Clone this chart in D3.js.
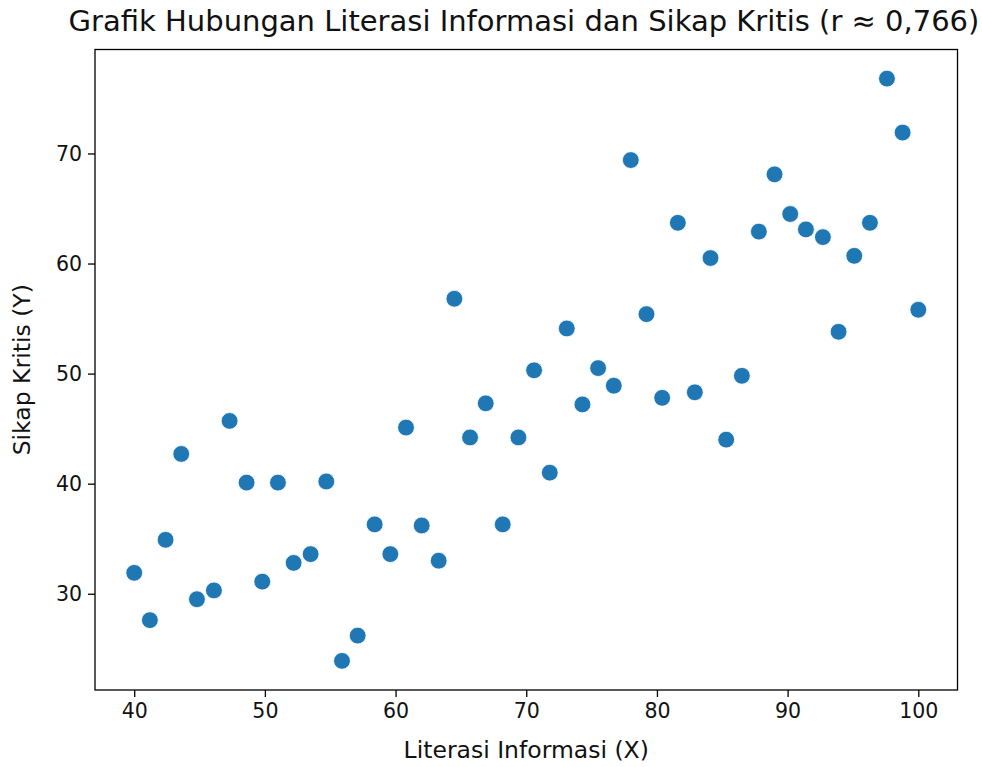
<!DOCTYPE html>
<html>
<head>
<meta charset="utf-8">
<script src="https://cdn.jsdelivr.net/npm/d3@7"></script>
<style>
  body { margin: 0; background: #fff; }
  svg { display: block; font-family: "DejaVu Sans", sans-serif; }
</style>
</head>
<body>
<div id="chart"></div>
<script>
// Literasi Informasi (X)
var literasi = [40.0, 41.2, 42.4, 43.6, 44.8, 46.1, 47.3, 48.6, 49.8, 51.0,
                52.2, 53.5, 54.7, 55.9, 57.1, 58.4, 59.6, 60.8, 62.0, 63.3,
                64.5, 65.7, 66.9, 68.2, 69.4, 70.6, 71.8, 73.1, 74.3, 75.5,
                76.7, 78.0, 79.2, 80.4, 81.6, 82.9, 84.1, 85.3, 86.5, 87.8,
                89.0, 90.2, 91.4, 92.7, 93.9, 95.1, 96.3, 97.6, 98.8, 100.0];
// Sikap Kritis (Y)
var sikap = [31.9, 27.6, 34.9, 42.7, 29.5, 30.3, 45.7, 40.1, 31.1, 40.1,
             32.8, 33.6, 40.2, 23.9, 26.2, 36.3, 33.6, 45.1, 36.2, 33.0,
             56.8, 44.2, 47.3, 36.3, 44.2, 50.3, 41.0, 54.1, 47.2, 50.5,
             48.9, 69.4, 55.4, 47.8, 63.7, 48.3, 60.5, 44.0, 49.8, 62.9,
             68.1, 64.5, 63.1, 62.4, 53.8, 60.7, 63.7, 76.8, 71.9, 55.8];
var xTicks = [40, 50, 60, 70, 80, 90, 100];
var yTicks = [30, 40, 50, 60, 70];

var width = 982, height = 767;
var margin = {top: 49.5, right: 24.5, bottom: 77, left: 95};

var svg = d3.select('#chart').append('svg')
    .attr('width', width)
    .attr('height', height);

// matplotlib-like 5% padding around the data
function padded(ext) {
    var p = (ext[1] - ext[0]) * 0.05;
    return [ext[0] - p, ext[1] + p];
}

var x = d3.scaleLinear()
    .domain(padded(d3.extent(literasi)))
    .range([margin.left, width - margin.right]);
var y = d3.scaleLinear()
    .domain(padded(d3.extent(sikap)))
    .range([height - margin.bottom, margin.top]);

var points = literasi.map(function(d, i) { return {x: d, y: sikap[i]}; });

svg.selectAll('circle')
    .data(points)
    .enter()
    .append('circle')
    .attr('cx', function(d) { return x(d.x); })
    .attr('cy', function(d) { return y(d.y); })
    .attr('r', 8.4)
    .attr('fill', '#1f77b4')
    .attr('stroke', '#fff')
    .attr('stroke-width', 0.8);

// axes
var xAxis = svg.append('g')
    .attr('transform', 'translate(0,' + (height - margin.bottom) + ')')
    .call(d3.axisBottom(x).tickValues(xTicks).tickSizeOuter(0).tickSize(7).tickPadding(6));
var yAxis = svg.append('g')
    .attr('transform', 'translate(' + margin.left + ',0)')
    .call(d3.axisLeft(y).tickValues(yTicks).tickSizeOuter(0).tickSize(7).tickPadding(6));

[xAxis, yAxis].forEach(function(g) {
    g.select('.domain').remove();
    g.selectAll('.tick line').attr('stroke', '#000').attr('stroke-width', 1.3);
    g.selectAll('.tick text')
        .attr('fill', '#111')
        .style('font-family', '"DejaVu Sans", sans-serif')
        .style('font-size', '20.5px');
});

// frame
svg.append('rect')
    .attr('x', margin.left)
    .attr('y', margin.top)
    .attr('width', width - margin.left - margin.right)
    .attr('height', height - margin.top - margin.bottom)
    .attr('fill', 'none')
    .attr('stroke', '#000')
    .attr('stroke-width', 1.3);

// title and labels
svg.append('text')
    .attr('x', 524)
    .attr('y', 31)
    .attr('text-anchor', 'middle')
    .attr('fill', '#111')
    .style('font-size', '29px')
    .text('Grafik Hubungan Literasi Informasi dan Sikap Kritis (r \u2248 0,766)');

svg.append('text')
    .attr('x', (margin.left + width - margin.right) / 2)
    .attr('y', 758)
    .attr('text-anchor', 'middle')
    .attr('fill', '#111')
    .style('font-size', '23.5px')
    .text('Literasi Informasi (X)');

svg.append('text')
    .attr('transform', 'translate(30,' + ((margin.top + height - margin.bottom) / 2) + ') rotate(-90)')
    .attr('text-anchor', 'middle')
    .attr('fill', '#111')
    .style('font-size', '23.5px')
    .text('Sikap Kritis (Y)');
</script>
</body>
</html>
